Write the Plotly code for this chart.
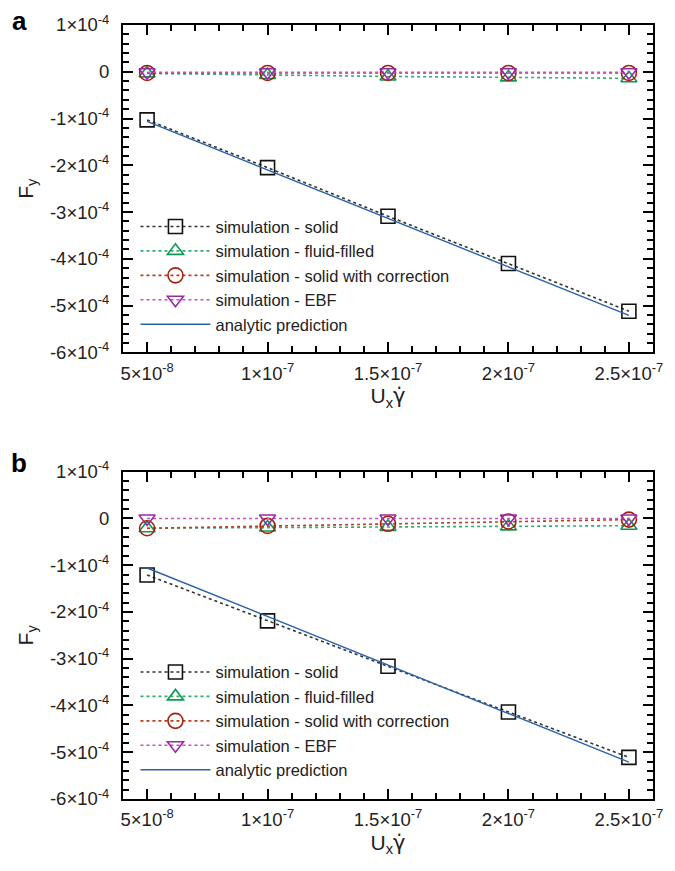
import plotly.graph_objects as go
from plotly.subplots import make_subplots

# ---------------- data ----------------
x_vals = [5e-8, 1e-7, 1.5e-7, 2e-7, 2.5e-7]

# panel a
a_solid = [-1.03e-4, -2.05e-4, -3.09e-4, -4.10e-4, -5.12e-4]
a_fluid = [-0.35e-5, -0.7e-5, -1.0e-5, -1.2e-5, -1.4e-5]
a_corr = [-0.25e-5, -0.25e-5, -0.25e-5, -0.25e-5, -0.25e-5]
a_ebf = [-0.1e-5, -0.1e-5, -0.1e-5, -0.1e-5, -0.1e-5]

# panel b
b_solid = [-1.21e-4, -2.19e-4, -3.16e-4, -4.14e-4, -5.11e-4]
b_fluid = [-2.1e-5, -1.95e-5, -1.8e-5, -1.7e-5, -1.55e-5]
b_corr = [-2.1e-5, -1.6e-5, -1.15e-5, -0.65e-5, -0.25e-5]
b_ebf = [0.0, 0.0, 0.0, 0.0, 0.0]

# analytic prediction (straight line, endpoints)
an_x = [5e-8, 2.5e-7]
an_y = [-1.06e-4, -5.21e-4]

names = ["simulation - solid", "simulation - fluid-filled",
         "simulation - solid with correction", "simulation - EBF",
         "analytic prediction"]

x_tickvals = [5e-8, 1e-7, 1.5e-7, 2e-7, 2.5e-7]
x_ticktext = ["5×10<sup>-8</sup>", "1×10<sup>-7</sup>", "1.5×10<sup>-7</sup>",
              "2×10<sup>-7</sup>", "2.5×10<sup>-7</sup>"]
y_tickvals = [1e-4, 0, -1e-4, -2e-4, -3e-4, -4e-4, -5e-4, -6e-4]
y_ticktext = ["1×10<sup>-4</sup>", "0", "-1×10<sup>-4</sup>", "-2×10<sup>-4</sup>",
              "-3×10<sup>-4</sup>", "-4×10<sup>-4</sup>", "-5×10<sup>-4</sup>",
              "-6×10<sup>-4</sup>"]

# ---------------- styles ----------------
FONT = "Liberation Sans, Arial, sans-serif"
TXT = "#222222"
styles = [
    dict(line_color="#333333", mcolor="#111111", symbol="square-open", size=14),
    dict(line_color="#2fae6e", mcolor="#0a9a55", symbol="triangle-up-open", size=14),
    dict(line_color="#b8401f", mcolor="#a8200c", symbol="circle-open", size=15),
    dict(line_color="#c653b8", mcolor="#9b2aa8", symbol="triangle-down-open", size=14),
]
BLUE = "#2a62a8"

fig = make_subplots(rows=2, cols=1, vertical_spacing=0.0)

panels = [
    (1, "legend", [a_solid, a_fluid, a_corr, a_ebf]),
    (2, "legend2", [b_solid, b_fluid, b_corr, b_ebf]),
]
for row, leg, series in panels:
    for name, ys, st in zip(names[:4], series, styles):
        fig.add_trace(go.Scatter(
            x=x_vals, y=ys, name=name, mode="lines+markers",
            line=dict(color=st["line_color"], width=1.6, dash="dot"),
            marker=dict(symbol=st["symbol"], size=st["size"], color=st["mcolor"],
                        line=dict(width=1.6, color=st["mcolor"])),
            legend=leg), row=row, col=1)
    fig.add_trace(go.Scatter(
        x=an_x, y=an_y, name=names[4], mode="lines",
        line=dict(color=BLUE, width=1.4), legend=leg), row=row, col=1)

axis_common = dict(
    showline=True, linecolor="black", linewidth=2, mirror="ticks",
    ticks="inside", ticklen=10, tickwidth=2, tickcolor="black",
    showgrid=False, zeroline=False,
    tickfont=dict(family=FONT, size=18.5, color=TXT),
)

x_title = "U<sub>x</sub><span style=\"font-family:DejaVu Sans\">γ̇</span>"

for row in (1, 2):
    fig.update_xaxes(
        range=[4e-8, 2.6e-7], tickmode="array", tickvals=x_tickvals, ticktext=x_ticktext,
        minor=dict(ticks="inside", ticklen=6, tickwidth=2, tickcolor="black",
                   tickmode="linear", tick0=0, dtick=1e-8, showgrid=False),
        title=dict(text=x_title, font=dict(family=FONT, size=21, color=TXT), standoff=6),
        ticklabelstandoff=3,
        row=row, col=1, **axis_common)
    fig.update_yaxes(
        range=[-6e-4, 1e-4], tickmode="array", tickvals=y_tickvals, ticktext=y_ticktext,
        minor=dict(ticks="inside", ticklen=6, tickwidth=2, tickcolor="black",
                   tickmode="linear", tick0=0, dtick=2e-5, showgrid=False),
        title=dict(text="F<sub>y</sub>", font=dict(family=FONT, size=21, color=TXT), standoff=11),
        ticklabelstandoff=8,
        row=row, col=1, **axis_common)

fig.update_layout(
    yaxis=dict(domain=[0.5771, 1.0]),
    yaxis2=dict(domain=[0.0, 0.4229]),
    width=675, height=871,
    margin=dict(l=122.5, r=15.5, t=21, b=72),
    paper_bgcolor="white", plot_bgcolor="white",
    font=dict(family=FONT, color=TXT),
    legend=dict(x=0.0235, y=0.762, xanchor="left", yanchor="top",
                font=dict(family=FONT, size=16.5, color=TXT), itemwidth=70,
                bgcolor="rgba(0,0,0,0)"),
    legend2=dict(x=0.0235, y=0.1864, xanchor="left", yanchor="top",
                 font=dict(family=FONT, size=16.5, color=TXT), itemwidth=70,
                 bgcolor="rgba(0,0,0,0)"),
    annotations=[
        dict(text="<b>a</b>", x=-0.196, y=1.005, xref="paper", yref="paper",
             showarrow=False, font=dict(family=FONT, size=26, color="black"),
             xanchor="center", yanchor="middle"),
        dict(text="<b>b</b>", x=-0.196, y=0.434, xref="paper", yref="paper",
             showarrow=False, font=dict(family=FONT, size=26, color="black"),
             xanchor="center", yanchor="middle"),
    ],
)

# place the figure at the window's top-left corner (no default page margin)
fig.write_html("out.html",
               config={"displayModeBar": False},
               post_script="document.body.style.margin='0';"
                           "document.body.style.overflow='hidden';")
